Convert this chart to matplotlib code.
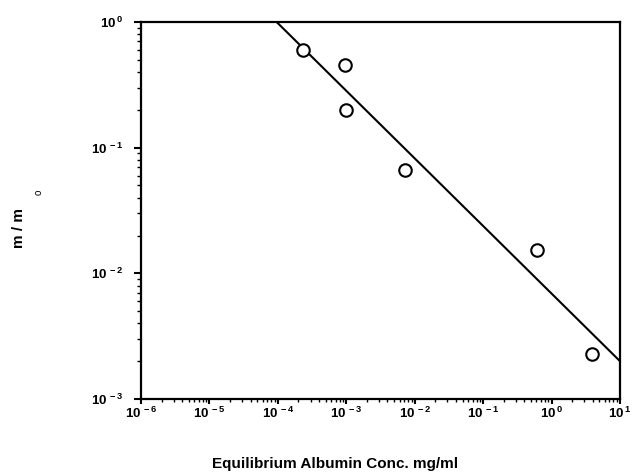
import matplotlib
matplotlib.use("Agg")
import matplotlib.pyplot as plt
import numpy as np
from matplotlib.ticker import FixedLocator, FuncFormatter, LogLocator, NullFormatter

plt.rcParams["font.family"] = ["Liberation Sans", "DejaVu Sans"]
plt.rcParams["mathtext.fontset"] = "custom"
plt.rcParams["mathtext.rm"] = "Liberation Sans:bold"
plt.rcParams["mathtext.bf"] = "Liberation Sans:bold"

# measured points (albumin conc mg/ml, m/m0)
conc = [2.3e-4, 9.5e-4, 1.0e-3, 7.2e-3, 0.61, 3.9]
ratio = [0.60, 0.455, 0.20, 0.066, 0.0153, 0.0023]

# fitted line end points
fit_x = [9.6e-5, 10.0]
fit_y = [1.0, 0.0020]

x_ticks = [1e-6, 1e-5, 1e-4, 1e-3, 1e-2, 1e-1, 1e0, 1e1]
y_ticks = [1e-3, 1e-2, 1e-1, 1e0]


def pow_label(v, pos):
    e = int(round(np.log10(v)))
    return r"$\mathrm{10}^{\,%d}$" % e


fig = plt.figure(figsize=(6.32, 4.75), dpi=100)
ax = fig.add_axes([141 / 632, 1 - 399 / 475, 479 / 632, 377 / 475])

ax.plot(fit_x, fit_y, color="black", lw=1.5, zorder=2)
ax.plot(conc, ratio, "o", mfc="white", mec="black", mew=1.5, ms=9, zorder=3)

ax.set_xscale("log")
ax.set_yscale("log")
ax.set_xlim(1e-6, 1e1)
ax.set_ylim(1e-3, 1e0)

ax.xaxis.set_major_locator(FixedLocator(x_ticks))
ax.yaxis.set_major_locator(FixedLocator(y_ticks))
ax.xaxis.set_minor_locator(LogLocator(base=10, subs=np.arange(2, 10), numticks=20))
ax.yaxis.set_minor_locator(LogLocator(base=10, subs=np.arange(2, 10), numticks=20))
ax.xaxis.set_major_formatter(FuncFormatter(pow_label))
ax.yaxis.set_major_formatter(FuncFormatter(pow_label))
ax.xaxis.set_minor_formatter(NullFormatter())
ax.yaxis.set_minor_formatter(NullFormatter())

ax.tick_params(axis="y", which="major", direction="out", length=5, width=1.5,
               labelsize=9.5, pad=8)
ax.tick_params(axis="y", which="minor", direction="out", length=3, width=1.0)
ax.tick_params(axis="x", which="major", direction="out", length=3.5, width=1.5,
               labelsize=9.5, pad=1.5)
ax.tick_params(axis="x", which="minor", direction="out", length=2, width=1.0)

for s in ax.spines.values():
    s.set_linewidth(1.6)

fig.text(335 / 632, 1 - 464 / 475, "Equilibrium Albumin Conc. mg/ml",
         ha="center", va="center", fontsize=11, fontweight="bold")
fig.text(19 / 632, 1 - 228 / 475, "m / m", rotation=90,
         ha="center", va="center", fontsize=11, fontweight="bold")
fig.text(39 / 632, 1 - 192 / 475, "o", rotation=90,
         ha="center", va="center", fontsize=7)

fig.savefig("out.png", dpi=100)
